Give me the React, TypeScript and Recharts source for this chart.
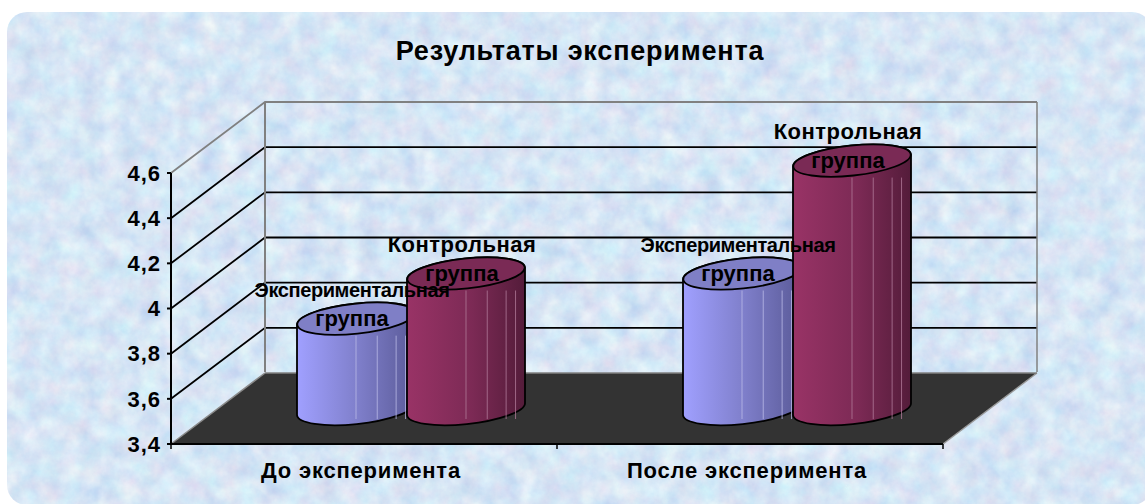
import React from 'react';
import { BarChart, Bar, XAxis, YAxis, ReferenceLine } from 'recharts';

const categories = ['До эксперимента', 'После эксперимента'];
const experimental = [3.8, 4.0];
const control = [4.0, 4.5];
const groupNames = { exp: ['Экспериментальная', 'группа'], ctrl: ['Контрольная', 'группа'] };
const valueTicks = [3.4, 3.6, 3.8, 4, 4.2, 4.4, 4.6];
const gridValues = [3.6, 3.8, 4, 4.2, 4.4];

const data = categories.map((name, i) => ({ name, exp: experimental[i], ctrl: control[i] }));

const FONT = '"Liberation Sans", Arial, sans-serif';
// depth of the fake 3D box, and how far the bars sit inside it
const DEPTH_X = 94;
const DEPTH_Y = -71;
const BAR_DX = 47;
const BAR_DY = -35;
const RY = 15;
const TILT = 6;

// floor, back wall frame and side wall frame, hung off the 3.4 line
const FloorShape = (props: any) => {
  const { x1, y1, x2 } = props;
  const mid = (x1 + x2) / 2;
  const backY = y1 + DEPTH_Y;
  return (
    <g>
      <polygon
        points={`${x1},${y1} ${x2},${y1} ${x2 + DEPTH_X},${backY} ${x1 + DEPTH_X},${backY}`}
        fill="#333333"
      />
      <line x1={x1} y1={y1} x2={x1 + DEPTH_X} y2={backY} stroke="#8a8a8a" strokeWidth={1.5} />
      <line x1={x2} y1={y1} x2={x2 + DEPTH_X} y2={backY} stroke="#9a9a9a" strokeWidth={1.5} />
      <line x1={x1 + DEPTH_X} y1={backY} x2={x2 + DEPTH_X} y2={backY} stroke="#808080" strokeWidth={1.5} />
      <line x1={x1} y1={y1} x2={x2} y2={y1} stroke="#000" strokeWidth={2} />
      {[x1, mid, x2].map((x) => (
        <line key={x} x1={x} y1={y1} x2={x} y2={y1 + 5} stroke="#000" strokeWidth={1.5} />
      ))}
    </g>
  );
};

const WallLine = (props: any) => {
  const { x1, y1, x2, color } = props;
  const bx = x1 + DEPTH_X;
  const by = y1 + DEPTH_Y;
  return (
    <polyline
      points={`${x1},${y1} ${bx},${by} ${x2 + DEPTH_X},${by}`}
      fill="none"
      stroke={color}
      strokeWidth={1.8}
    />
  );
};

// top line also closes the back wall down to the floor
const TopFrame = (props: any) => {
  const { x1, y1, x2, floorDrop } = props;
  const bx = x1 + DEPTH_X;
  const by = y1 + DEPTH_Y;
  return (
    <g>
      <WallLine {...props} color="#808080" />
      <line x1={bx} y1={by} x2={bx} y2={by + floorDrop} stroke="#808080" strokeWidth={2} />
      <line x1={x2 + DEPTH_X} y1={by} x2={x2 + DEPTH_X} y2={by + floorDrop} stroke="#808080" strokeWidth={1.5} />
    </g>
  );
};

const Cylinder = (props: any) => {
  const { x, y, width, height, gradient, topFill, streak } = props;
  const left = x + BAR_DX;
  const right = left + width;
  const cx = left + width / 2;
  const rx = width / 2;
  const top = y + BAR_DY;
  const bottom = top + height;
  const side =
    `M${left},${top + TILT} L${left},${bottom + TILT} ` +
    `A${rx},${RY} ${-TILT} 0 0 ${right},${bottom - TILT} L${right},${top - TILT} ` +
    `A${rx},${RY} ${-TILT} 0 0 ${left},${top + TILT} Z`;
  const streaks = [0.5, 0.68, 0.84, 0.92];
  return (
    <g>
      <path d={side} fill={`url(#${gradient})`} stroke="#000" strokeWidth={1.8} strokeLinejoin="round" />
      {streaks.map((f) => (
        <line
          key={f}
          x1={left + width * f}
          x2={left + width * f}
          y1={top + RY + 2}
          y2={bottom + 10}
          stroke={streak}
          strokeWidth={0.8}
        />
      ))}
      <ellipse
        cx={cx}
        cy={top}
        rx={rx}
        ry={RY}
        transform={`rotate(${-TILT} ${cx} ${top})`}
        fill={topFill}
        stroke="#000"
        strokeWidth={1.8}
      />
    </g>
  );
};

const GroupLabel = (props: any) => {
  const { x, y, width, lines, firstSize, squeeze } = props;
  const cx = x + BAR_DX + width / 2 - 4;
  const top = y + BAR_DY;
  return (
    <text textAnchor="middle" fontFamily={FONT} fontSize={22} fontWeight="bold" fill="#000">
      <tspan x={cx} y={top - 22} fontSize={firstSize} letterSpacing={squeeze}>{lines[0]}</tspan>
      <tspan x={cx} y={top + 7}>{lines[1]}</tspan>
    </text>
  );
};

const axisTick = { fontFamily: FONT, fontSize: 22, fontWeight: 'bold', fill: '#000' };

export default function App() {
  const topY = 173;
  const floorDrop = 270;
  return (
    <div style={{ position: 'absolute', left: 0, top: 0, width: 1145, height: 504, overflow: 'hidden', background: '#fff' }}>
      <svg width={1145} height={504} style={{ position: 'absolute', left: 0, top: 0 }}>
        <defs>
          <filter id="paper" x="0" y="0" width="100%" height="100%" colorInterpolationFilters="sRGB">
            <feTurbulence type="fractalNoise" baseFrequency="0.05" numOctaves={5} seed={7} />
            <feColorMatrix
              type="matrix"
              values="0.2 0.1 0 0 0.69  0.05 0.16 0 0 0.795  0 0.06 0.03 0 0.915  0 0 0 0 1"
            />
          </filter>
          <clipPath id="panel">
            <rect x={7} y={12} width={1145} height={493} rx={20} />
          </clipPath>
        </defs>
        <g clipPath="url(#panel)">
          <rect x={0} y={0} width={1145} height={504} fill="#d9e8f7" filter="url(#paper)" />
        </g>
      </svg>
      <div
        style={{
          position: 'absolute',
          left: 365,
          width: 430,
          top: 35,
          textAlign: 'center',
          fontFamily: FONT,
          fontWeight: 'bold',
          fontSize: 27,
          letterSpacing: 0.8,
          lineHeight: '32px',
          color: '#000',
          whiteSpace: 'nowrap',
        }}
      >
        Результаты эксперимента
      </div>
      <div style={{ position: 'absolute', left: 0, top: 0 }}>
        <BarChart
          width={1145}
          height={504}
          data={data}
          barSize={118}
          barGap={-8}
          margin={{ top: topY, right: 202, bottom: 30, left: 0 }}
          style={{ overflow: 'visible' }}
        >
          <defs>
            <linearGradient id="blueSide" x1="0" x2="1" y1="0" y2="0">
              <stop offset="0" stopColor="#a0a0ff" />
              <stop offset="0.5" stopColor="#8080cc" />
              <stop offset="1" stopColor="#5a5a98" />
            </linearGradient>
            <linearGradient id="redSide" x1="0" x2="1" y1="0" y2="0">
              <stop offset="0" stopColor="#993366" />
              <stop offset="0.55" stopColor="#7c2a55" />
              <stop offset="1" stopColor="#541c3a" />
            </linearGradient>
          </defs>
          <XAxis
            dataKey="name"
            axisLine={false}
            tickLine={false}
            interval={0}
            tickMargin={12}
            tick={{ ...axisTick, letterSpacing: 0.8, dx: -3 }}
          />
          <XAxis dataKey="name" xAxisId="labels" hide />
          <YAxis
            domain={[3.4, 4.6]}
            ticks={valueTicks}
            interval={0}
            width={171}
            stroke="#000"
            strokeWidth={2}
            tickSize={4}
            tickMargin={6}
            tickFormatter={(v: number) => String(v).replace('.', ',')}
            tick={{ ...axisTick, letterSpacing: 1 }}
          />
          <ReferenceLine y={3.4} zIndex={-10} shape={<FloorShape />} />
          {gridValues.map((v) => (
            <ReferenceLine key={v} y={v} zIndex={-20} shape={<WallLine color="#000" />} />
          ))}
          <ReferenceLine y={4.6} zIndex={-20} shape={<TopFrame color="#808080" floorDrop={floorDrop} />} />
          <Bar
            dataKey="exp"
            isAnimationActive={false}
            shape={<Cylinder gradient="blueSide" topFill="#7f7fc6" streak="#b9b9e6" />}
          />
          <Bar
            dataKey="ctrl"
            isAnimationActive={false}
            shape={<Cylinder gradient="redSide" topFill="#7a2a55" streak="#b07a98" />}
          />
          {/* same bars on a hidden axis, so the text lands above both cylinders */}
          <Bar
            dataKey="exp"
            xAxisId="labels"
            isAnimationActive={false}
            shape={<GroupLabel lines={groupNames.exp} firstSize={20} squeeze={-0.4} />}
          />
          <Bar
            dataKey="ctrl"
            xAxisId="labels"
            isAnimationActive={false}
            shape={<GroupLabel lines={groupNames.ctrl} firstSize={22} squeeze={0.5} />}
          />
        </BarChart>
      </div>
    </div>
  );
}
